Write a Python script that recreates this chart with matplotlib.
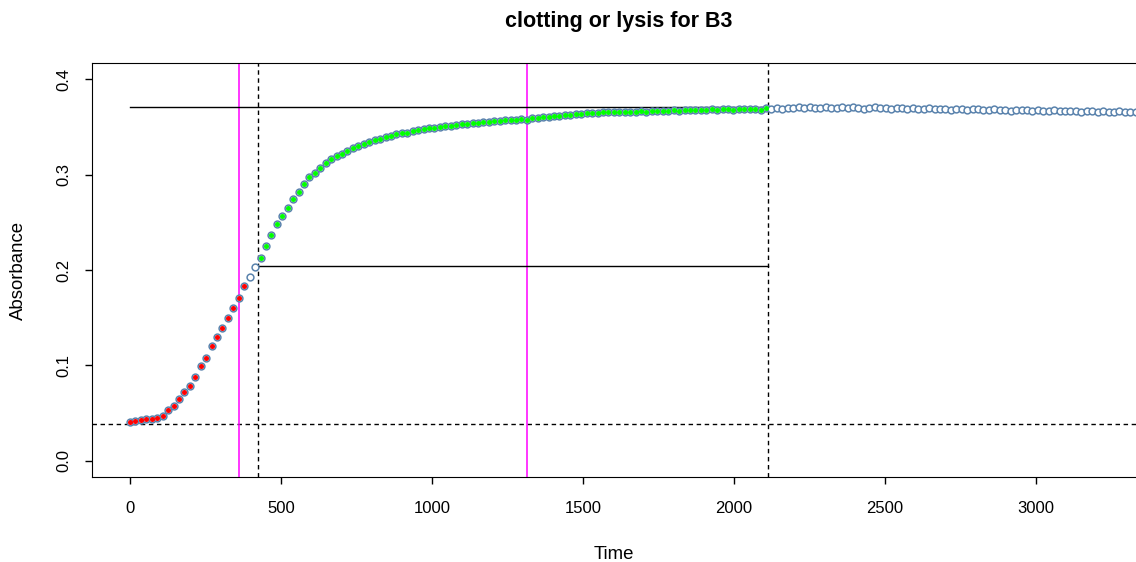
import numpy as np
import matplotlib
matplotlib.use("Agg")
import matplotlib.pyplot as plt

plt.rcParams['font.family'] = ['Liberation Sans', 'DejaVu Sans']

# ===== DATA =====
dt = 18  # seconds between readings
absorbance = [
    0.041, 0.042, 0.043, 0.044, 0.044, 0.045, 0.047, 0.053, 0.058, 0.065,
    0.072, 0.078, 0.088, 0.099, 0.108, 0.120, 0.130, 0.139, 0.150, 0.160,
    0.171, 0.183, 0.193, 0.203, 0.213, 0.225, 0.237, 0.248, 0.257, 0.265,
    0.274, 0.282, 0.290, 0.297, 0.302, 0.307, 0.312, 0.316, 0.319, 0.322,
    0.325, 0.328, 0.330, 0.332, 0.334, 0.336, 0.337, 0.339, 0.340, 0.342,
    0.343, 0.344, 0.346, 0.347, 0.348, 0.349, 0.349, 0.350, 0.351, 0.351,
    0.352, 0.353, 0.353, 0.354, 0.354, 0.355, 0.355, 0.356, 0.356, 0.357,
    0.357, 0.357, 0.358, 0.357, 0.359, 0.359, 0.360, 0.360, 0.361, 0.361,
    0.362, 0.362, 0.363, 0.363, 0.364, 0.364, 0.364, 0.365, 0.365, 0.365,
    0.366, 0.366, 0.366, 0.366, 0.367, 0.366, 0.367, 0.367, 0.367, 0.367,
    0.368, 0.367, 0.368, 0.368, 0.368, 0.368, 0.368, 0.369, 0.368, 0.369,
    0.369, 0.368, 0.369, 0.369, 0.369, 0.369, 0.368, 0.370, 0.369, 0.370,
    0.369, 0.370, 0.370, 0.371, 0.370, 0.371, 0.370, 0.370, 0.371, 0.370,
    0.370, 0.371, 0.370, 0.371, 0.370, 0.369, 0.370, 0.371, 0.370, 0.370,
    0.369, 0.370, 0.370, 0.369, 0.370, 0.369, 0.369, 0.370, 0.369, 0.369,
    0.369, 0.368, 0.369, 0.369, 0.368, 0.369, 0.369, 0.368, 0.368, 0.369,
    0.368, 0.368, 0.367, 0.368, 0.368, 0.368, 0.367, 0.368, 0.367, 0.367,
    0.368, 0.367, 0.367, 0.367, 0.367, 0.366, 0.367, 0.367, 0.366, 0.367,
    0.366, 0.366, 0.367, 0.366, 0.365, 0.366,
]
time = np.arange(len(absorbance)) * dt
absorbance = np.array(absorbance)

# index ranges of the highlighted phases
red_end = 22     # exclusive
green_start = 24
green_end = 118  # exclusive

baseline = 0.039
max_abs = 0.3707
half_abs = 0.2045
t_half = 424
t_end = 2113
magenta_t = [361, 1315]

# ===== PLOT =====
fig = plt.figure(figsize=(11.36, 5.62), dpi=100)
ax = fig.add_axes([92 / 1136, 1 - 477 / 562, 1 - 92 / 1136, (477 - 63) / 562])

ax.plot(time, absorbance, 'o', mfc='white', mec='#5a83ad', ms=4.9, mew=1.1, zorder=3)
ax.plot(time[:red_end], absorbance[:red_end], 'o', color='red', ms=2.6, zorder=4)
ax.plot(time[green_start:green_end], absorbance[green_start:green_end], 'o',
        color='#00ff00', ms=2.6, zorder=4)

# reference lines
dash = (3.2, 2.6)
ax.axhline(baseline, color='black', lw=1.0, ls=(0, dash), zorder=2)
ax.axvline(t_half, color='black', lw=1.0, ls=(0, dash), zorder=2)
ax.axvline(t_end, color='black', lw=1.0, ls=(0, dash), zorder=2)
for t in magenta_t:
    ax.axvline(t, color='magenta', lw=1.1, zorder=2)
ax.plot([0, t_end], [max_abs, max_abs], color='black', lw=1.0, zorder=2)
ax.plot([t_half, t_end], [half_abs, half_abs], color='black', lw=1.0, zorder=2)

ax.set_xlim(-126, 3331)
ax.set_ylim(-0.0168, 0.4168)
ax.set_xticks(np.arange(0, 3001, 500))
ax.set_yticks([0.0, 0.1, 0.2, 0.3, 0.4])
ax.set_yticklabels(['0.0', '0.1', '0.2', '0.3', '0.4'], rotation=90, va='center')
ax.tick_params(axis='both', length=5, width=1, labelsize=12)
ax.tick_params(axis='x', pad=12)
ax.tick_params(axis='y', pad=10)
ax.spines['right'].set_visible(False)

ax.set_xlabel('Time', fontsize=13.4, labelpad=22)
ax.set_ylabel('Absorbance', fontsize=13.4, labelpad=21)
fig.text(619 / 1136, 1 - 22 / 562, 'clotting or lysis for B3', ha='center', va='center',
         fontsize=15.5, fontweight='bold')

fig.savefig('out.png', dpi=100)
